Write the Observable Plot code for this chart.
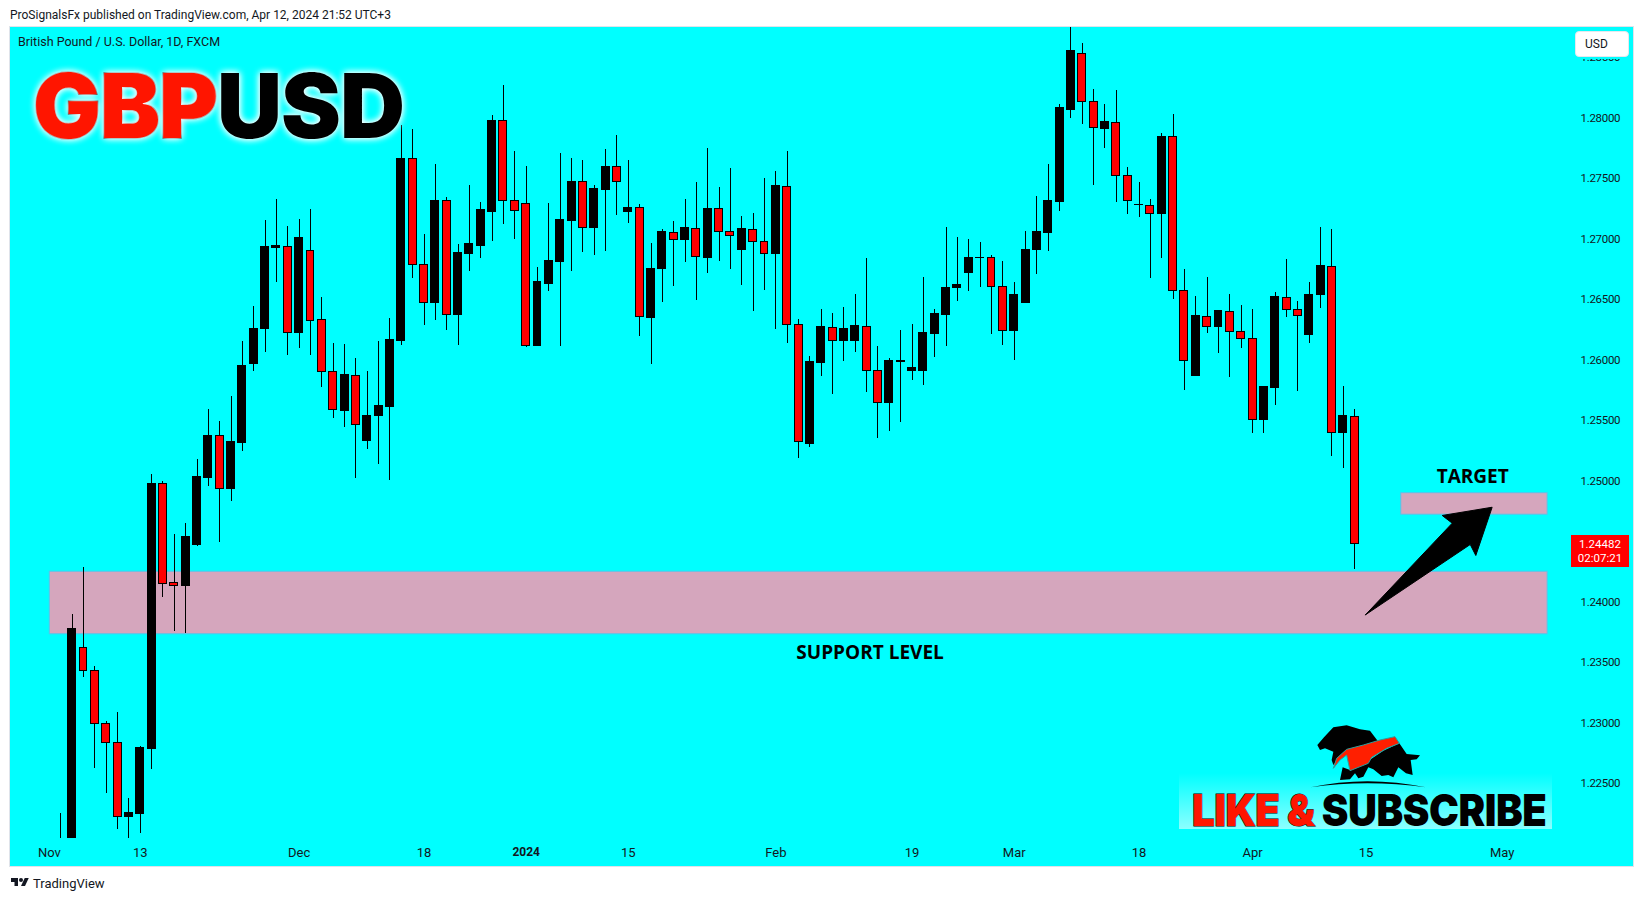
<!DOCTYPE html>
<html>
<head>
<meta charset="utf-8">
<script src="https://cdn.jsdelivr.net/npm/d3@7"></script>
<script src="https://cdn.jsdelivr.net/npm/@observablehq/plot@0.6"></script>
<style>
html,body{margin:0;padding:0;background:#fff;width:1643px;height:901px;overflow:hidden}
#root{position:relative;width:1643px;height:901px;font-family:Roboto,sans-serif;color:#131722}
.abs{position:absolute;white-space:nowrap}
g[aria-label="y-axis tick label"]{letter-spacing:-.3px}
</style>
</head>
<body>
<div id="root"></div>
<script>
const opens = [1.2150,1.2195,1.23622,1.23432,1.22994,1.22837,1.22219,1.22244,1.22784,1.24978,
1.24154,1.24128,1.24467,1.25028,1.25375,1.24931,1.25311,1.25970,1.26252,1.26926,
1.26936,1.26219,1.26897,1.26327,1.25903,1.25581,1.25870,1.25327,1.25534,1.25615,
1.26161,1.27663,1.26787,1.26467,1.27316,1.26368,1.26880,1.26946,1.27227,1.27977,
1.27316,1.27291,1.26112,1.26632,1.26806,1.27145,1.27472,1.27087,1.27409,1.27597,
1.27227,1.27258,1.26351,1.26748,1.27051,1.26988,1.27084,1.26847,1.27250,1.27060,
1.26913,1.27076,1.26977,1.26872,1.27431,1.26291,1.25302,1.25971,1.26266,1.26153,
1.26161,1.26274,1.25911,1.25641,1.25983,1.25913,1.25913,1.26211,1.26368,1.26591,
1.26723,1.26843,1.26845,1.26605,1.26236,1.26467,1.26905,1.27046,1.27302,1.28070,
1.28531,1.28134,1.27913,1.27960,1.27522,1.27281,1.27274,1.27203,1.27845,1.26572,
1.25864,1.26357,1.26269,1.26399,1.26233,1.26175,1.25500,1.25765,1.26514,1.26415,
1.26203,1.26533,1.26770,1.25393,1.25530];
const highs = [1.22250,1.23897,1.24285,1.23467,1.23013,1.23087,1.22376,1.22806,1.25054,1.24996,
1.24559,1.24648,1.25176,1.25590,1.25492,1.25699,1.26154,1.26442,1.27153,1.27326,
1.27103,1.27161,1.27244,1.26517,1.26137,1.26129,1.26012,1.25906,1.26154,1.26344,
1.27938,1.27905,1.27037,1.27616,1.27343,1.26955,1.27442,1.27302,1.28021,1.28269,
1.27723,1.27599,1.26765,1.27291,1.27707,1.27665,1.27649,1.27442,1.27740,1.27855,
1.27649,1.27285,1.26963,1.27079,1.27145,1.27326,1.27467,1.27748,1.27426,1.27583,
1.27186,1.27211,1.27500,1.27558,1.27723,1.26335,1.26029,1.26417,1.26384,1.26434,
1.26541,1.26839,1.26112,1.26012,1.26244,1.26293,1.26682,1.26417,1.27095,1.27012,
1.26996,1.26971,1.26864,1.26814,1.26641,1.27062,1.27351,1.27616,1.28112,1.28940,
1.28616,1.28236,1.28112,1.28227,1.27591,1.27467,1.27326,1.27872,1.28029,1.26748,
1.26525,1.26682,1.26409,1.26541,1.26450,1.26417,1.25781,1.26558,1.26831,1.26484,
1.26641,1.27095,1.27079,1.25781,1.25591];
const lows = [1.2140,1.2180,1.23379,1.22627,1.22420,1.22120,1.2202,1.22090,1.22618,1.24037,
1.23757,1.23741,1.24459,1.24956,1.24492,1.24830,1.25243,1.25906,1.26062,1.26641,
1.26040,1.26095,1.26037,1.25771,1.25517,1.25441,1.25020,1.25260,1.25137,1.25003,
1.26120,1.26674,1.26285,1.26327,1.26244,1.26120,1.26731,1.26839,1.26979,1.27120,
1.26996,1.26103,1.26108,1.26566,1.26112,1.26731,1.26888,1.26864,1.26897,1.27194,
1.27128,1.26194,1.25963,1.26475,1.26608,1.26806,1.26492,1.26715,1.26814,1.26748,
1.26616,1.26401,1.26574,1.26252,1.26136,1.25186,1.25277,1.25864,1.25715,1.25988,
1.26062,1.25731,1.25351,1.25409,1.25484,1.25831,1.25789,1.26021,1.26112,1.26484,
1.26566,1.26599,1.26211,1.26120,1.25996,1.26464,1.26707,1.26897,1.27227,1.27996,
1.27946,1.27442,1.27748,1.27302,1.27203,1.27178,1.26674,1.26839,1.26500,1.25748,
1.25860,1.26219,1.26054,1.25855,1.26095,1.25393,1.25393,1.25624,1.26351,1.25740,
1.26136,1.26426,1.25203,1.25103,1.24269];
const closes = [1.2195,1.23773,1.23428,1.22990,1.22833,1.22222,1.22252,1.22790,1.24978,1.24148,
1.24128,1.24534,1.25036,1.25375,1.24933,1.25319,1.25947,1.26260,1.26930,1.26938,
1.26222,1.27012,1.26322,1.25900,1.25584,1.25872,1.25461,1.25540,1.25621,1.26165,
1.27665,1.26784,1.26470,1.27318,1.26370,1.26888,1.26955,1.27236,1.27979,1.27312,
1.27230,1.26114,1.26641,1.26814,1.27153,1.27475,1.27089,1.27417,1.27599,1.27469,
1.27260,1.26354,1.26756,1.27054,1.26988,1.27087,1.26850,1.27252,1.27056,1.27023,
1.27079,1.26974,1.26874,1.27434,1.26288,1.25318,1.25980,1.26269,1.26155,1.26260,
1.26277,1.25908,1.25643,1.25988,1.25988,1.25930,1.26219,1.26376,1.26599,1.26616,
1.26847,1.26847,1.26602,1.26238,1.26541,1.26913,1.27054,1.27310,1.28079,1.28550,
1.28131,1.27916,1.27963,1.27519,1.27312,1.27284,1.27205,1.27847,1.26569,1.25990,
1.26360,1.26271,1.26401,1.26230,1.26172,1.25503,1.25773,1.26517,1.26412,1.26362,
1.26541,1.26773,1.25395,1.25533,1.24482];

const timeTickIndex = [-1,7,21,32,50,63,75,84,95,105,115,127];
const timeTickLabels = ["Nov","13","Dec","18","15","Feb","19","Mar","18","Apr","15","May"];
const yearTickIndex = [41];
const yearTickLabels = ["2024"];
const priceTicks = [1.225,1.23,1.235,1.24,1.25,1.255,1.26,1.265,1.27,1.275,1.28,1.285];

const supportZone = {i1:-0.97, i2:131, top:1.24250, bottom:1.23733};
const targetZone = {i1:118.1, i2:131, top:1.24899, bottom:1.24721};
const arrowIndex = [114.95,122.59,121.71,126.11,124.67,124.18,114.95];
const arrowPrice = [1.23894,1.24651,1.24715,1.24783,1.24384,1.24475,1.23894];
const notes = [
  {i:124.4, p:1.25030, t:"TARGET"},
  {i:71.3, p:1.23583, t:"SUPPORT LEVEL"}
];
const lastPrice = "1.24482", countdown = "02:07:21";

const candles = opens.map((o,i)=>({i, o, h:highs[i], l:lows[i], c:closes[i], up:closes[i]>=o}));
const arrow = arrowIndex.map((i,k)=>({i, p:arrowPrice[k]}));
const half = 0.352;

const chart = Plot.plot({
  width:1623, height:839,
  marginLeft:0, marginRight:58, marginTop:0, marginBottom:28,
  style:{background:"#00ffff", position:"absolute", left:"10px", top:"27px", overflow:"visible",
         outline:"1px solid #dfe3ea", fontFamily:'Roboto,sans-serif'},
  x:{type:"linear", domain:[-4.432,133.454]},
  y:{type:"linear", domain:[1.22045,1.28748]},
  marks:[
    Plot.rect([supportZone,targetZone],{x1:"i1",x2:"i2",y1:"bottom",y2:"top",fill:"#d5a6bd",stroke:"#58c4ea",strokeWidth:1}),
    Plot.ruleX(candles,{x:"i",y1:"l",y2:"h",stroke:"#000",strokeWidth:1,clip:true,shapeRendering:"crispEdges"}),
    Plot.rect(candles,{x1:d=>d.i-half,x2:d=>d.i+half,y1:"o",y2:"c",fill:d=>d.up?"#000000":"#ff0000",stroke:"#000",strokeWidth:1,clip:true,shapeRendering:"crispEdges"}),
    Plot.line(arrow,{x:"i",y:"p",fill:"#000",stroke:"#000",strokeWidth:1,strokeLinejoin:"round"}),
    Plot.text(notes,{x:"i",y:"p",text:"t",fontSize:19,fontWeight:700,fill:"#000",fontFamily:'"Open Sans",sans-serif'}),
    Plot.axisX(timeTickIndex,{tickSize:0,tickPadding:9,label:null,fontSize:13,fill:"#131722",tickFormat:d=>timeTickLabels[timeTickIndex.indexOf(d)]}),
    Plot.axisX(yearTickIndex,{tickSize:0,tickPadding:9,label:null,fontSize:12,fontWeight:700,fill:"#131722",tickFormat:d=>yearTickLabels[yearTickIndex.indexOf(d)]}),
    Plot.axisY(priceTicks,{anchor:"right",tickSize:0,tickPadding:5,label:null,fontSize:11.5,fill:"#131722",tickFormat:d=>d.toFixed(5)})
  ]
});
const root = document.getElementById("root");
root.appendChild(chart);

function add(html, css){
  const d = document.createElement("div");
  d.className = "abs";
  d.style.cssText = css;
  d.innerHTML = html;
  root.appendChild(d);
  return d;
}
add("ProSignalsFx published on TradingView.com, Apr 12, 2024 21:52 UTC+3","left:10px;top:7px;font-size:12px;line-height:16px");
add("British Pound / U.S. Dollar, 1D, FXCM","left:18px;top:34px;font-size:12.5px;line-height:16px");
add("","left:1572px;top:28px;width:60px;height:31px;background:#00ffff");
add("USD","left:1575px;top:31px;width:54px;height:26px;box-sizing:border-box;background:#fff;border:1px solid #e4e8ee;border-radius:4px;font-size:12px;line-height:24px;padding-left:9px");
add('<span style="color:#ff1500;-webkit-text-stroke:1.5px #000;paint-order:stroke">GBP</span><span style="color:#000">USD</span>',
    'left:33px;top:54px;font-family:Inter,sans-serif;font-weight:900;font-size:90px;line-height:104px;letter-spacing:-1px;text-shadow:0 0 7px #fff,0 0 7px #fff');
add(lastPrice+"<br>"+countdown,"left:1571px;top:535px;width:58px;height:32px;background:#ff0000;color:#fff;font-size:11.5px;line-height:14px;text-align:center;padding-top:2px;box-sizing:border-box");
add("","left:1179px;top:773px;width:373px;height:56px;background:linear-gradient(to bottom,rgba(255,255,255,0),rgba(255,255,255,.55))");
add('<span style="color:#ff1500;-webkit-text-stroke:1px #000;paint-order:stroke">LIKE &amp;</span> <span style="color:#000">SUBSCRIBE</span>',
    'left:1192px;top:784px;font-family:Inter,sans-serif;font-weight:900;font-size:44px;line-height:52px;letter-spacing:-.5px;transform:scaleX(.91);transform-origin:left center');
add('<svg width="440" height="170" viewBox="0 0 1320 510" style="display:block"><path fill="#000" d="M592,195 L612,172 L640,142 L680,136 L720,148 L750,152 L775,185 L700,205 L665,225 L640,255 L635,240 L640,215 L615,205 L600,210 Z"/><path fill="#000" d="M660,300 L668,262 L690,270 L752,238 L790,212 L838,190 L860,222 L900,226 L890,238 L872,240 L878,285 L858,280 L835,262 L820,292 L805,285 L785,288 L760,268 L745,262 L730,290 L715,295 L705,280 L690,298 Z"/><path fill="#ff1f00" stroke="#2a9d9d" stroke-width="3" d="M640,265 L650,235 L680,208 L730,195 L780,180 L825,170 L838,190 L800,205 L755,232 L745,250 L690,272 L680,225 L660,240 Z"/><path fill="#000" d="M572,322 Q740,285 918,322 Q740,298 572,322 Z"/></svg>',
    "left:1120px;top:680px;pointer-events:none");
add('<svg width="20" height="14" viewBox="0 0 36 28" style="display:block"><path fill="#131722" d="M14 6H0v8h7v8h7V6Zm14 16h-8l7.500-16h8L28 22Z"/><circle cx="20" cy="10" r="4" fill="#131722"/></svg>',"left:10px;top:875px");
add("TradingView","left:33px;top:875px;font-size:13px;line-height:17px");
</script>
</body>
</html>
